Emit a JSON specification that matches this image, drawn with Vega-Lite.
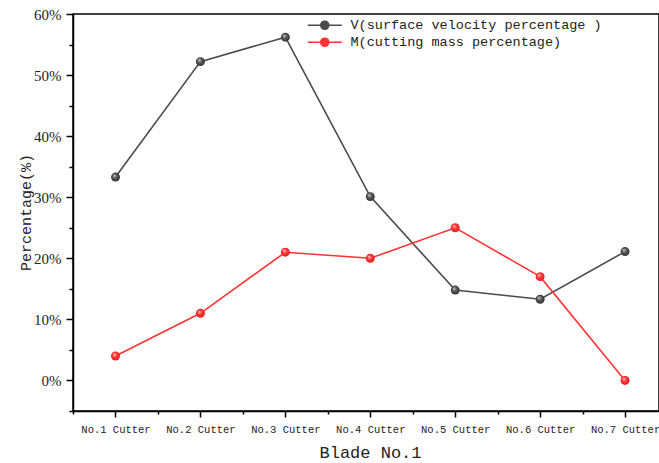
{
  "$schema": "https://vega.github.io/schema/vega-lite/v6.json",
  "width": 586,
  "height": 397,
  "autosize": "none",
  "padding": {"left": 73, "top": 14, "right": 0, "bottom": 52},
  "background": "white",
  "config": {
    "view": {"stroke": "#000", "strokeWidth": 1.5},
    "axis": {"domainColor": "#000", "domainWidth": 1.5, "tickColor": "#000", "tickWidth": 1.5, "grid": false, "labelColor": "#222", "titleColor": "#222", "titleFontWeight": "normal"}
  },
  "data": {
    "values": [
      {"cutter": "No.1 Cutter", "series": "V(surface velocity percentage )", "pct": 33.3},
      {"cutter": "No.2 Cutter", "series": "V(surface velocity percentage )", "pct": 52.2},
      {"cutter": "No.3 Cutter", "series": "V(surface velocity percentage )", "pct": 56.2},
      {"cutter": "No.4 Cutter", "series": "V(surface velocity percentage )", "pct": 30.1},
      {"cutter": "No.5 Cutter", "series": "V(surface velocity percentage )", "pct": 14.8},
      {"cutter": "No.6 Cutter", "series": "V(surface velocity percentage )", "pct": 13.3},
      {"cutter": "No.7 Cutter", "series": "V(surface velocity percentage )", "pct": 21.1},
      {"cutter": "No.1 Cutter", "series": "M(cutting mass percentage)", "pct": 4},
      {"cutter": "No.2 Cutter", "series": "M(cutting mass percentage)", "pct": 11},
      {"cutter": "No.3 Cutter", "series": "M(cutting mass percentage)", "pct": 21},
      {"cutter": "No.4 Cutter", "series": "M(cutting mass percentage)", "pct": 20},
      {"cutter": "No.5 Cutter", "series": "M(cutting mass percentage)", "pct": 25},
      {"cutter": "No.6 Cutter", "series": "M(cutting mass percentage)", "pct": 17},
      {"cutter": "No.7 Cutter", "series": "M(cutting mass percentage)", "pct": 0}
    ]
  },
  "layer": [
    {
      "mark": {"type": "line", "strokeWidth": 1.6},
      "encoding": {
        "x": {
          "field": "cutter", "type": "nominal", "sort": null,
          "scale": {"type": "point", "padding": 0.45, "align": 0.556},
          "axis": {
            "orient": "bottom", "labelAngle": 0, "labelFont": "Liberation Mono", "labelFontSize": 10.5,
            "tickSize": 6, "labelPadding": 7,
            "title": "Blade No.1", "titleFont": "Liberation Mono", "titleFontSize": 17,
            "titleX": 297, "titleY": 41, "titleBaseline": "middle"
          }
        },
        "y": {
          "field": "pct", "type": "quantitative",
          "scale": {"domain": [-5, 60], "nice": false, "zero": false},
          "axis": {
            "orient": "left", "values": [0, 10, 20, 30, 40, 50, 60],
            "labelExpr": "datum.value + '%'", "labelFont": "Liberation Serif", "labelFontSize": 15,
            "tickSize": 7, "labelPadding": 5,
            "title": "Percentage(%)", "titleFont": "Liberation Mono", "titleFontSize": 15,
            "titleX": -48, "titleY": 198, "titleBaseline": "middle", "titleAngle": -90
          }
        },
        "color": {
          "field": "series", "type": "nominal", "sort": null,
          "scale": {"domain": ["V(surface velocity percentage )", "M(cutting mass percentage)"], "range": ["#4a4a4a", "#ff3333"]},
          "legend": {
            "orient": "none", "legendX": 245, "legendY": 4.5, "title": null,
            "symbolType": "M-3.4,0L3.4,0M0.8,0A0.8,0.8 0 1,1 -0.8,0A0.8,0.8 0 1,1 0.8,0Z",
            "symbolSize": 100, "symbolStrokeWidth": 1.6,
            "labelFont": "Liberation Mono", "labelFontSize": 13.5, "labelColor": "#222", "labelLimit": 0,
            "labelOffset": 19, "rowPadding": 2, "padding": 0,
            "encode": {"symbols": {"update": {"fill": {"scale": "color", "field": "value"}}}}
          }
        }
      }
    },
    {
      "transform": [{"filter": "datum.series == 'V(surface velocity percentage )'"}],
      "mark": {
        "type": "point", "filled": true, "size": 80, "opacity": 1,
        "fill": {"gradient": "radial", "x1": 0.35, "y1": 0.3, "r1": 0, "x2": 0.5, "y2": 0.5, "r2": 0.55,
          "stops": [{"offset": 0, "color": "#d0d0d0"}, {"offset": 0.45, "color": "#5a5a5a"}, {"offset": 1, "color": "#2a2a2a"}]}
      },
      "encoding": {
        "x": {
          "field": "cutter", "type": "nominal", "sort": null,
          "axis": {"orient": "bottom", "labels": false, "domain": false, "tickSize": 3, "tickOffset": -42.5, "title": null}
        },
        "y": {
          "field": "pct", "type": "quantitative",
          "axis": {"orient": "left", "values": [-5, 5, 15, 25, 35, 45, 55], "labels": false, "domain": false, "tickSize": 4, "title": null}
        }
      }
    },
    {
      "transform": [{"filter": "datum.series == 'M(cutting mass percentage)'"}],
      "mark": {
        "type": "point", "filled": true, "size": 80, "opacity": 1,
        "fill": {"gradient": "radial", "x1": 0.35, "y1": 0.3, "r1": 0, "x2": 0.5, "y2": 0.5, "r2": 0.55,
          "stops": [{"offset": 0, "color": "#ffd6d6"}, {"offset": 0.45, "color": "#ff3a3a"}, {"offset": 1, "color": "#e01818"}]}
      },
      "encoding": {
        "x": {"field": "cutter", "type": "nominal", "sort": null, "axis": null},
        "y": {"field": "pct", "type": "quantitative", "axis": null}
      }
    }
  ],
  "resolve": {"axis": {"x": "independent", "y": "independent"}}
}
